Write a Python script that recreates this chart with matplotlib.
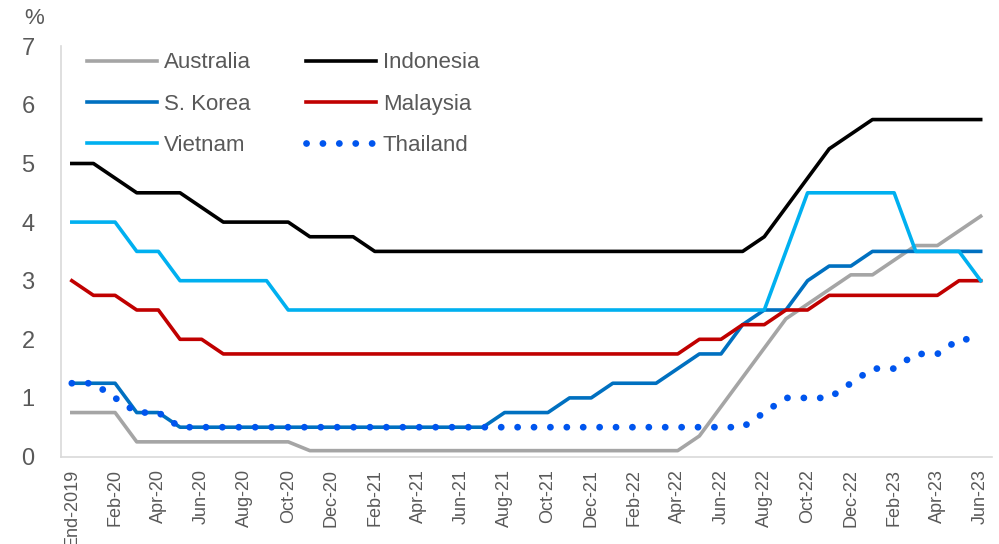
import matplotlib
matplotlib.use("Agg")
import matplotlib.pyplot as plt
import numpy as np

# Month-end policy rates (%), Dec 2019 to Jun 2023
months = ["End-2019", "Jan-20", "Feb-20", "Mar-20", "Apr-20", "May-20", "Jun-20", "Jul-20",
          "Aug-20", "Sep-20", "Oct-20", "Nov-20", "Dec-20", "Jan-21", "Feb-21", "Mar-21",
          "Apr-21", "May-21", "Jun-21", "Jul-21", "Aug-21", "Sep-21", "Oct-21", "Nov-21",
          "Dec-21", "Jan-22", "Feb-22", "Mar-22", "Apr-22", "May-22", "Jun-22", "Jul-22",
          "Aug-22", "Sep-22", "Oct-22", "Nov-22", "Dec-22", "Jan-23", "Feb-23", "Mar-23",
          "Apr-23", "May-23", "Jun-23"]

australia = [0.75, 0.75, 0.75, 0.25, 0.25, 0.25, 0.25, 0.25, 0.25, 0.25, 0.25, 0.10, 0.10,
             0.10, 0.10, 0.10, 0.10, 0.10, 0.10, 0.10, 0.10, 0.10, 0.10, 0.10, 0.10, 0.10,
             0.10, 0.10, 0.10, 0.35, 0.85, 1.35, 1.85, 2.35, 2.60, 2.85, 3.10, 3.10, 3.35,
             3.60, 3.60, 3.85, 4.10]
indonesia = [5.00, 5.00, 4.75, 4.50, 4.50, 4.50, 4.25, 4.00, 4.00, 4.00, 4.00, 3.75, 3.75,
             3.75, 3.50, 3.50, 3.50, 3.50, 3.50, 3.50, 3.50, 3.50, 3.50, 3.50, 3.50, 3.50,
             3.50, 3.50, 3.50, 3.50, 3.50, 3.50, 3.75, 4.25, 4.75, 5.25, 5.50, 5.75, 5.75,
             5.75, 5.75, 5.75, 5.75]
korea = [1.25, 1.25, 1.25, 0.75, 0.75, 0.50, 0.50, 0.50, 0.50, 0.50, 0.50, 0.50, 0.50,
         0.50, 0.50, 0.50, 0.50, 0.50, 0.50, 0.50, 0.75, 0.75, 0.75, 1.00, 1.00, 1.25,
         1.25, 1.25, 1.50, 1.75, 1.75, 2.25, 2.50, 2.50, 3.00, 3.25, 3.25, 3.50, 3.50,
         3.50, 3.50, 3.50, 3.50]
malaysia = [3.00, 2.75, 2.75, 2.50, 2.50, 2.00, 2.00, 1.75, 1.75, 1.75, 1.75, 1.75, 1.75,
            1.75, 1.75, 1.75, 1.75, 1.75, 1.75, 1.75, 1.75, 1.75, 1.75, 1.75, 1.75, 1.75,
            1.75, 1.75, 1.75, 2.00, 2.00, 2.25, 2.25, 2.50, 2.50, 2.75, 2.75, 2.75, 2.75,
            2.75, 2.75, 3.00, 3.00]
vietnam = [4.00, 4.00, 4.00, 3.50, 3.50, 3.00, 3.00, 3.00, 3.00, 3.00, 2.50, 2.50, 2.50,
           2.50, 2.50, 2.50, 2.50, 2.50, 2.50, 2.50, 2.50, 2.50, 2.50, 2.50, 2.50, 2.50,
           2.50, 2.50, 2.50, 2.50, 2.50, 2.50, 2.50, 3.50, 4.50, 4.50, 4.50, 4.50, 4.50,
           3.50, 3.50, 3.50, 3.00]
thailand = [1.25, 1.25, 1.00, 0.75, 0.75, 0.50, 0.50, 0.50, 0.50, 0.50, 0.50, 0.50, 0.50,
            0.50, 0.50, 0.50, 0.50, 0.50, 0.50, 0.50, 0.50, 0.50, 0.50, 0.50, 0.50, 0.50,
            0.50, 0.50, 0.50, 0.50, 0.50, 0.50, 0.75, 1.00, 1.00, 1.00, 1.25, 1.50, 1.50,
            1.75, 1.75, 2.00, 2.00]

plt.rcParams["font.family"] = ["Liberation Sans", "DejaVu Sans"]
text_color = "#595959"
axis_color = "#D9D9D9"

fig = plt.figure(figsize=(9.99, 5.44), dpi=100)
ax = fig.add_axes([61 / 999, 1 - 456.5 / 544, (991.5 - 61) / 999, (456.5 - 46.3) / 544])

x = np.arange(len(months))
lw = 2.6
ax.plot(x, australia, color="#A5A5A5", lw=lw, label="Australia", zorder=3)
ax.plot(x, korea, color="#0070C0", lw=lw, label="S. Korea", zorder=4)
ax.plot(x, vietnam, color="#00B0F0", lw=lw, label="Vietnam", zorder=6)
ax.plot(x, indonesia, color="#000000", lw=lw, label="Indonesia", zorder=4)
ax.plot(x, malaysia, color="#C00000", lw=lw, label="Malaysia", zorder=5)
ax.plot(x, thailand, color="#0055EE", lw=4.9, linestyle=(0, (0.01, 2.4)),
        dash_capstyle="round", label="Thailand", zorder=7)

ax.set_xlim(-0.5, len(months) - 0.5)
ax.set_ylim(0, 7)
ax.set_yticks(range(0, 8))
ax.set_xticks(x[::2])
ax.set_xticklabels(months[::2], rotation=90)

for side in ("top", "right"):
    ax.spines[side].set_visible(False)
for side in ("left", "bottom"):
    ax.spines[side].set_color(axis_color)
    ax.spines[side].set_linewidth(1.2)

ax.tick_params(axis="y", length=0, pad=19, labelsize=17, labelcolor=text_color)
ax.tick_params(axis="x", length=0, pad=9, labelsize=13, labelcolor=text_color)

fig.text(34 / 999, 1 - 18 / 544, "%", ha="center", va="center", fontsize=16, color=text_color)

ax.legend(loc="upper left", bbox_to_anchor=(26 / 930, 0.985), ncol=2, frameon=False,
          fontsize=16, labelcolor=text_color, handlelength=3.15, handletextpad=0.3,
          columnspacing=2.5, labelspacing=0.91, borderpad=0, borderaxespad=0)

fig.savefig("out.png", dpi=100)
